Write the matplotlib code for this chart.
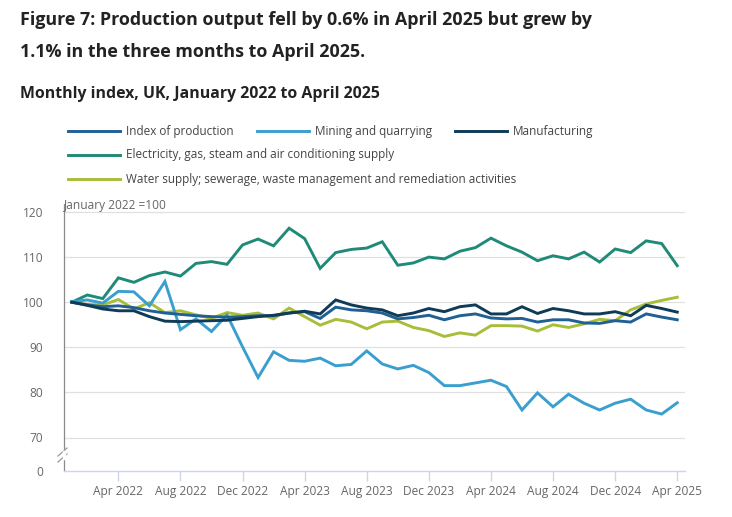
import matplotlib
matplotlib.use("Agg")
import matplotlib.pyplot as plt
from matplotlib.lines import Line2D

plt.rcParams['font.family'] = ['Open Sans', 'DejaVu Sans']

months = ["Jan 2022","Feb 2022","Mar 2022","Apr 2022","May 2022","Jun 2022","Jul 2022","Aug 2022",
          "Sep 2022","Oct 2022","Nov 2022","Dec 2022","Jan 2023","Feb 2023","Mar 2023","Apr 2023",
          "May 2023","Jun 2023","Jul 2023","Aug 2023","Sep 2023","Oct 2023","Nov 2023","Dec 2023",
          "Jan 2024","Feb 2024","Mar 2024","Apr 2024","May 2024","Jun 2024","Jul 2024","Aug 2024",
          "Sep 2024","Oct 2024","Nov 2024","Dec 2024","Jan 2025","Feb 2025","Mar 2025","Apr 2025"]

index_of_production = [100.0, 99.4, 99.0, 99.2, 98.8, 98.1, 97.6, 97.3, 97.0, 96.8, 96.7, 96.8,
                       97.0, 97.0, 97.6, 97.9, 96.4, 98.9, 98.3, 98.1, 97.6, 96.3, 96.6, 97.1,
                       96.1, 97.0, 97.4, 96.5, 96.3, 96.4, 95.6, 96.1, 96.1, 95.4, 95.3, 95.9,
                       95.6, 97.4, 96.7, 96.1]
mining = [100.1, 100.5, 99.8, 102.4, 102.3, 99.2, 104.6, 93.9, 96.3, 93.5, 97.2, 90.1,
          83.3, 89.0, 87.1, 86.9, 87.6, 85.9, 86.2, 89.2, 86.3, 85.2, 86.0, 84.4,
          81.5, 81.5, 82.1, 82.7, 81.3, 76.1, 79.9, 76.8, 79.6, 77.6, 76.1, 77.6,
          78.5, 76.1, 75.2, 77.7]
manufacturing = [100.0, 99.3, 98.5, 98.1, 98.1, 96.8, 95.8, 95.7, 95.8, 95.9, 96.0, 96.4,
                 96.8, 97.1, 97.6, 98.0, 97.4, 100.5, 99.4, 98.7, 98.3, 97.0, 97.6, 98.6,
                 97.9, 99.0, 99.4, 97.4, 97.4, 99.0, 97.5, 98.6, 98.1, 97.4, 97.4, 97.9,
                 97.0, 99.3, 98.6, 97.8]
electricity = [100.0, 101.6, 100.8, 105.4, 104.4, 105.9, 106.7, 105.8, 108.6, 109.0, 108.4, 112.7,
               114.0, 112.5, 116.4, 114.1, 107.5, 111.0, 111.7, 112.0, 113.4, 108.2, 108.7, 110.0,
               109.6, 111.3, 112.1, 114.2, 112.5, 111.1, 109.2, 110.3, 109.6, 111.1, 108.9, 111.8,
               111.0, 113.6, 113.0, 108.1]
water = [100.0, 99.5, 99.4, 100.6, 98.5, 99.9, 97.7, 98.1, 97.2, 96.4, 97.7, 97.1,
         97.6, 96.3, 98.7, 96.8, 94.9, 96.2, 95.6, 94.1, 95.6, 95.8, 94.4, 93.7,
         92.4, 93.2, 92.7, 94.8, 94.8, 94.7, 93.6, 95.0, 94.4, 95.2, 96.2, 95.9,
         98.3, 99.6, 100.4, 101.1]

series_names = ["Index of production", "Mining and quarrying", "Manufacturing",
                "Electricity, gas, steam and air conditioning supply",
                "Water supply; sewerage, waste management and remediation activities"]
series_values = [index_of_production, mining, manufacturing, electricity, water]
colors = ["#206095", "#3a9fcf", "#0f3b57", "#1f8a78", "#a8bd3a"]

y_ticks = [70, 80, 90, 100, 110, 120]
x_tick_labels = ["Apr 2022", "Aug 2022", "Dec 2022", "Apr 2023", "Aug 2023",
                 "Dec 2023", "Apr 2024", "Aug 2024", "Dec 2024", "Apr 2025"]

W, H = 732, 517
fig = plt.figure(figsize=(W/100, H/100), dpi=100)
fig.patch.set_facecolor("white")

ax_left, ax_right, ax_top, ax_bottom = 64, 685, 204, 471
ax = fig.add_axes([ax_left/W, 1-ax_bottom/H, (ax_right-ax_left)/W, (ax_bottom-ax_top)/H])

x = list(range(len(months)))
order = [3, 4, 1, 0, 2]
for i in order:
    ax.plot(x, series_values[i], color=colors[i], lw=2.1, solid_joinstyle='miter', zorder=3)

ymin = 120 - (ax_bottom - 212) / 4.51
ymax = 120 + (212 - ax_top) / 4.51
ax.set_ylim(ymin, ymax)
ax.set_xlim(-0.5, len(months) - 0.5)

ax.set_yticks([ymin] + y_ticks)
ax.set_yticklabels(["0"] + [str(v) for v in y_ticks])
for v in y_ticks:
    ax.axhline(v, color="#e0e0e0", lw=0.9, zorder=1)

xt = [months.index(l) for l in x_tick_labels]
ax.set_xticks(xt)
ax.set_xticklabels(x_tick_labels)

for s in ["top", "right"]:
    ax.spines[s].set_visible(False)
ax.spines["left"].set_color("#8a8a8a")
ax.spines["left"].set_linewidth(0.9)
ax.spines["bottom"].set_color("#ccd6eb")
ax.spines["bottom"].set_linewidth(1.0)
ax.tick_params(axis="y", length=0, pad=15, labelsize=8.6, labelcolor="#666666")
ax.tick_params(axis="x", length=7, width=1.0, color="#ccd6eb", pad=3, labelsize=8.6, labelcolor="#666666")
ax.set_facecolor("white")

# axis break marks
for dy in (-3, 3):
    fig.add_artist(Line2D([(ax_left-6)/W, (ax_left+3)/W], [(1-(455+dy+4)/H), (1-(455+dy-4)/H)],
                          color="#999999", lw=0.9))
fig.add_artist(Line2D([ax_left/W, ax_left/W], [1-458/H, 1-452/H], color="white", lw=2.5))

fig.text(ax_left/W, 1-205/H, "January 2022 =100", fontsize=8.6, color="#666666", va="center", ha="left")

# titles
fig.text(20/W, 1-20/H, "Figure 7: Production output fell by 0.6% in April 2025 but grew by",
         fontsize=12.85, fontweight="bold", color="#222222", va="center", ha="left")
fig.text(20/W, 1-52/H, "1.1% in the three months to April 2025.",
         fontsize=12.85, fontweight="bold", color="#222222", va="center", ha="left")
fig.text(20/W, 1-94/H, "Monthly index, UK, January 2022 to April 2025",
         fontsize=11.4, fontweight="bold", color="#222222", va="center", ha="left")

# legend
legend_pos = [(68, 131), (257, 131), (455, 131), (68, 155), (68, 179)]
for (lx, ly), name, c in zip(legend_pos, series_names, colors):
    fig.add_artist(Line2D([lx/W, (lx+52)/W], [1-ly/H, 1-ly/H], color=c, lw=2.1))
    fig.text((lx+58)/W, 1-ly/H, name, fontsize=8.5, color="#444444", va="center", ha="left")

fig.savefig("out.png", dpi=100, facecolor="white")
